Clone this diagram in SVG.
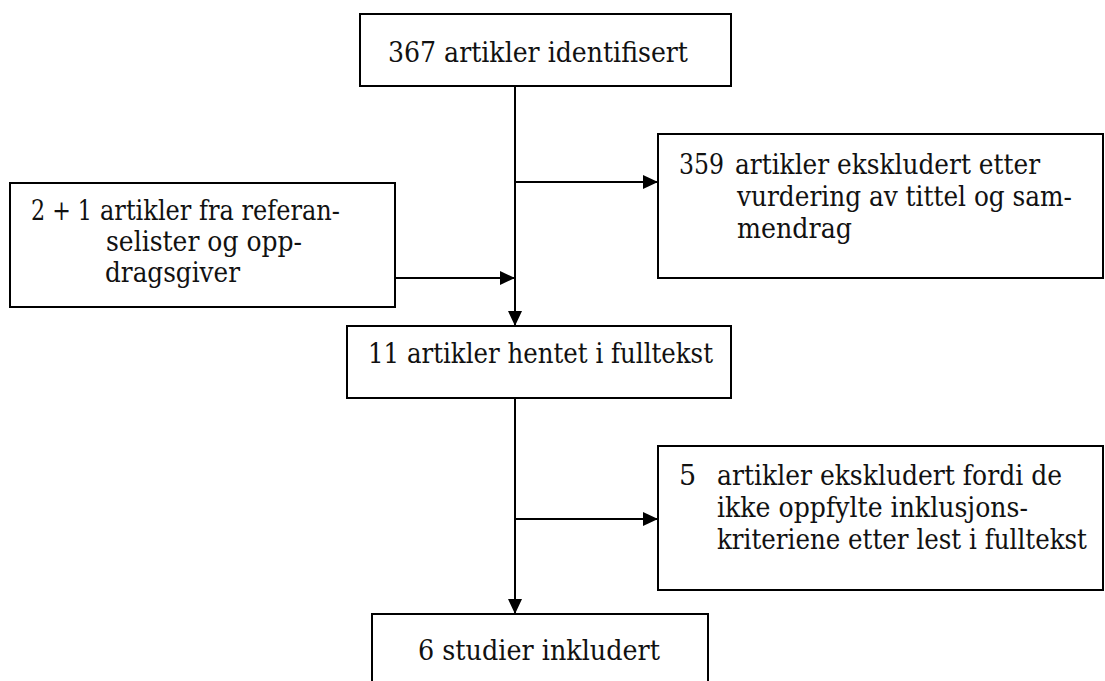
<svg xmlns="http://www.w3.org/2000/svg" width="1105" height="681" viewBox="0 0 1105 681">
<style>
.box{fill:#fff;stroke:#000;stroke-width:2}
.t{font-family:"DejaVu Serif","Liberation Serif",serif;font-size:27px;fill:#111}
.c{fill:none;stroke:#000;stroke-width:2}
</style>
<defs>
<marker id="arr" markerUnits="userSpaceOnUse" markerWidth="16" markerHeight="16" refX="15" refY="7" orient="auto">
<path d="M0,0 L15,7 L0,14 Z" fill="#000"/>
</marker>
</defs>
<rect width="1105" height="681" fill="#fff"/>
<g id="connectors">
<line class="c" x1="515" y1="86" x2="515" y2="326" marker-end="url(#arr)"/>
<line class="c" x1="515" y1="182" x2="658" y2="182" marker-end="url(#arr)"/>
<line class="c" x1="395" y1="278" x2="515" y2="278" marker-end="url(#arr)"/>
<line class="c" x1="515" y1="398" x2="515" y2="614" marker-end="url(#arr)"/>
<line class="c" x1="515" y1="519" x2="658" y2="519" marker-end="url(#arr)"/>
</g>
<g id="n1">
<rect class="box" x="360" y="14" width="371" height="72"/>
<text class="t" x="388" y="62" textLength="300" lengthAdjust="spacingAndGlyphs">367 artikler identifisert</text>
</g>
<g id="n2">
<rect class="box" x="10" y="183" width="385" height="124"/>
<text class="t" x="31" y="220" textLength="61" lengthAdjust="spacingAndGlyphs">2 + 1</text>
<text class="t" x="100" y="220" textLength="240" lengthAdjust="spacingAndGlyphs">artikler fra referan-</text>
<text class="t" x="106" y="251" textLength="196" lengthAdjust="spacingAndGlyphs">selister og opp-</text>
<text class="t" x="105" y="282" textLength="135" lengthAdjust="spacingAndGlyphs">dragsgiver</text>
</g>
<g id="n3">
<rect class="box" x="658" y="134" width="445" height="144"/>
<text class="t" x="679" y="174" textLength="45" lengthAdjust="spacingAndGlyphs">359</text>
<text class="t" x="735" y="174" textLength="305" lengthAdjust="spacingAndGlyphs">artikler ekskludert etter</text>
<text class="t" x="737" y="206" textLength="335" lengthAdjust="spacingAndGlyphs">vurdering av tittel og sam-</text>
<text class="t" x="737" y="238" textLength="115" lengthAdjust="spacingAndGlyphs">mendrag</text>
</g>
<g id="n4">
<rect class="box" x="347" y="326" width="384" height="72"/>
<text class="t" x="368" y="363" textLength="345" lengthAdjust="spacingAndGlyphs">11 artikler hentet i fulltekst</text>
</g>
<g id="n5">
<rect class="box" x="658" y="446" width="445" height="144"/>
<text class="t" x="679" y="485">5</text>
<text class="t" x="717" y="485" textLength="345" lengthAdjust="spacingAndGlyphs">artikler ekskludert fordi de</text>
<text class="t" x="717" y="517" textLength="311" lengthAdjust="spacingAndGlyphs">ikke oppfylte inklusjons-</text>
<text class="t" x="717" y="549" textLength="370" lengthAdjust="spacingAndGlyphs">kriteriene etter lest i fulltekst</text>
</g>
<g id="n6">
<rect class="box" x="372" y="614" width="336" height="90"/>
<text class="t" x="418" y="660" textLength="242" lengthAdjust="spacingAndGlyphs">6 studier inkludert</text>
</g>
</svg>
